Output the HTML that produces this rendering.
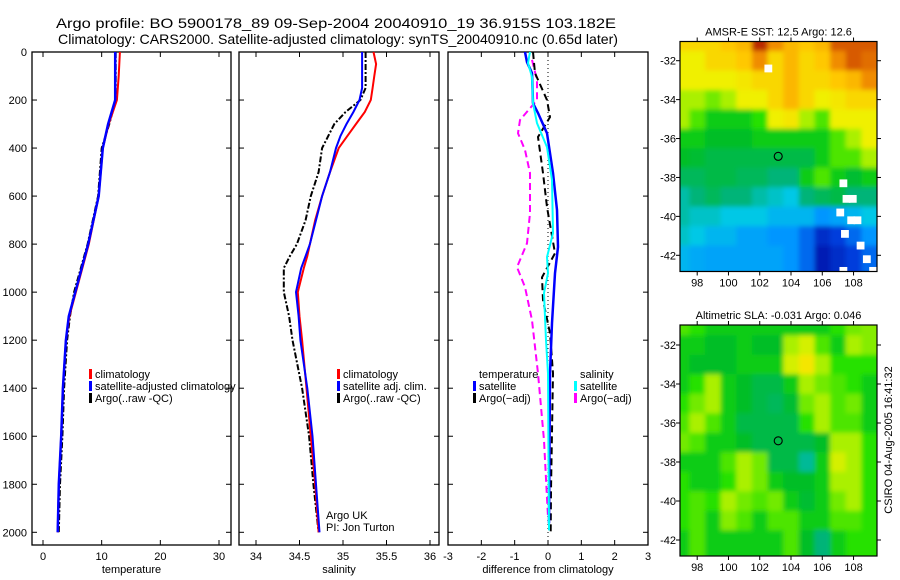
<!DOCTYPE html>
<html><head><meta charset="utf-8"><title>Argo profile</title>
<style>
html,body{margin:0;padding:0;background:#fff;}
svg{display:block;font-family:"Liberation Sans",Arial,sans-serif;}
</style></head>
<body>
<svg id="fig" width="900" height="580" viewBox="0 0 900 580" xmlns="http://www.w3.org/2000/svg">
<defs><filter id="mapblur" x="-5%" y="-5%" width="110%" height="110%"><feGaussianBlur stdDeviation="2.5"/></filter></defs>
<text x="56" y="28" font-size="14" textLength="560" lengthAdjust="spacingAndGlyphs">Argo profile: BO 5900178_89 09-Sep-2004 20040910_19 36.915S 103.182E</text>
<text x="58" y="44" font-size="14" textLength="560" lengthAdjust="spacingAndGlyphs">Climatology: CARS2000. Satellite-adjusted climatology: synTS_20040910.nc (0.65d later)</text>
<text transform="translate(892,440) rotate(-90)" text-anchor="middle" font-size="11">CSIRO 04-Aug-2005 16:41:32</text>
<g id="plots"></g>
</svg>
<script>
// ---------- data ----------
var tDepth = [0,50,100,200,300,400,600,800,1000,1100,1200,1400,1600,1800,2000];
var tClim  = [13.1,13.0,12.9,12.6,11.2,10.2,9.5,7.8,5.6,4.5,3.9,3.4,3.1,2.7,2.5];
var tSat   = [12.3,12.3,12.3,12.3,11.1,10.2,9.5,7.7,5.5,4.4,3.9,3.4,3.1,2.7,2.5];
var tArgo  = [12.4,12.4,12.4,12.4,11.3,10.0,9.4,7.6,5.3,4.6,4.1,3.6,3.3,2.9,2.7];

var sDepth = [0,50,100,150,200,250,300,350,400,500,600,700,800,850,900,1000,1100,1200,1400,1600,1800,2000];
var sClim  = [35.35,35.38,35.36,35.34,35.32,35.25,35.15,35.05,34.95,34.85,34.76,34.68,34.62,34.59,34.55,34.48,34.5,34.53,34.58,34.63,34.68,34.72];
var sSat   = [35.22,35.22,35.22,35.22,35.19,35.12,35.04,34.97,34.92,34.85,34.76,34.69,34.62,34.57,34.52,34.46,34.49,34.51,34.59,34.65,34.69,34.73];
var sArgo  = [35.26,35.26,35.26,35.26,35.2,35.03,34.9,34.83,34.76,34.72,34.63,34.57,34.47,34.39,34.32,34.32,34.38,34.42,34.53,34.61,34.66,34.72];

var dTDepthSat = [0,42,88,213,254,338,504,658,812,921,1129,1338,1963];
var dTSat      = [-0.69,-0.63,-0.48,-0.45,-0.3,-0.03,0.15,0.27,0.3,0.21,0.12,0.06,0.03];
var dSDepthSat = [0,46,104,213,296,396,533,754,854,921,1004,1200,1338,1992];
var dSSat      = [-0.54,-0.6,-0.48,-0.45,-0.33,-0.03,0.12,0.15,-0.03,0,-0.12,-0.06,0,0.03];
var dTDepthArgo= [0,88,200,271,354,504,646,838,938,1033,1171,1338,1825,2000];
var dTArgo     = [-0.45,-0.39,-0.03,0.06,-0.3,-0.15,-0.03,0.21,-0.18,-0.15,0.06,0.15,0.09,0.08];
var dSDepthArgo= [33,117,200,283,338,408,504,671,796,896,979,1117,1338,1617,1938];
var dSArgo     = [-0.48,-0.33,-0.33,-0.84,-0.9,-0.69,-0.54,-0.54,-0.63,-0.93,-0.69,-0.48,-0.3,-0.12,0];

var depthTicks = [0,200,400,600,800,1000,1200,1400,1600,1800,2000];
var tempTicks = [0,10,20,30];
var salTicks = [34,34.5,35,35.5,36];
var diffTicks = [-3,-2,-1,0,1,2,3];
var lonTicks = [98,100,102,104,106,108];
var latTicks = [-32,-34,-36,-38,-40,-42];

// SST map, 1-degree cells: rows lat -31..-43, cols lon 97..109
var sstGrid = [
[7.5,7.5,7.5,7.8,8,9.5,8.5,8,7.8,8,9,9,9],
[7,7,7.5,7.5,7.8,8.5,7.5,8,7.5,7.8,8.5,9,8.8],
[7,7,7,7,7.2,7.5,7.5,8,7.5,7.5,7.8,8,8.5],
[6.5,6.5,6.2,6.5,7,7,7.5,8,7.5,7,7.2,7.5,7.5],
[6.5,6,5.5,5.5,5.5,5.8,7,7.2,6.5,6,7,7,7],
[5.5,5.5,5.3,5.3,5.3,5.5,5.5,5.5,5.5,5.5,6,6.5,7],
[5.3,5.2,5,5,5,5,5,5,5,5.5,6,6,6.5],
[4.8,4.8,5,5,4.8,4.8,4.5,4.5,5.5,6,5.5,5.2,5.5],
[4.2,4.5,4.8,4.5,4.5,4.2,4,3.8,4.5,4.8,5,4.5,4.5],
[4.2,4,4,3.8,3.8,3.8,3.5,3.5,3.5,3,3.2,3.5,3.8],
[4,3.8,3.5,3.5,3.2,3.2,3,3,2.5,1.5,2,2.5,3],
[3.5,3.3,3.2,3.2,3.2,3.2,3.2,3,2.5,1,1.5,2,2.5],
[3.5,3.3,3.2,3.2,3.2,3.2,3.2,3,2.5,1,1.5,2,2.5]
];
var sstBlankLon = [102.3,107.1,107.3,107.7,106.9,107.6,108.0,107.2,108.2,108.6,107.1,109.0];
var sstBlankLat = [-32.2,-38.1,-38.9,-38.9,-39.6,-40.0,-40.0,-40.7,-41.3,-42.0,-42.6,-42.6];
var slaGrid = [
[6,5.8,5.5,5.5,5.5,5.5,5.5,5.5,5.5,5.5,5.8,6.2,6.3],
[5.5,5.5,5.3,5.3,5.5,5.3,5.3,6.5,6.8,6,5.5,6.5,6.3],
[5.5,5.3,5.3,5.3,5.5,5.5,5.5,6.8,7.2,6.5,5.8,5.8,5.8],
[5.5,5.8,6.5,5.5,5.3,5,5,5.5,6.5,6.2,6,5.8,5.5],
[5.8,6.2,6.5,5.5,5.3,5,4.8,5.2,6.2,6.5,6,6.2,5.5],
[6,6.5,6,5.5,5,5,5,5,5.8,6.5,6,6,5.5],
[6.2,6,5.5,5.5,5.3,5,5,5,5,5.3,6.5,6.5,5.8],
[5.5,5.5,5.5,6,6.5,6.2,5,5,4.3,5.5,6.8,6.5,5.8],
[5.8,5.5,5.5,5.8,6.5,6.2,5.5,5.3,5.3,5.5,6.5,6.5,5.8],
[5.8,6,5.8,6.5,6.2,6,6.2,5.5,5.2,5.5,6.2,6.5,5.8],
[5.8,6,5.5,6.3,6,5.5,6,6,5.5,5.5,6,6,5.8],
[5.5,6,5.5,5.5,5.5,5.5,5.5,6,5.3,4.5,5.5,5.8,5.8],
[5.5,6,5.5,5.5,5.5,5.5,5.5,6,5.3,4.5,5.5,5.8,5.8]
];
var argoLon = 103.182, argoLat = -36.915;

// ---------- helpers ----------
var NS = "http://www.w3.org/2000/svg";
var root = document.getElementById('plots');
function mk(tag, attrs, parent){
  var e = document.createElementNS(NS, tag);
  for (var k in attrs) e.setAttribute(k, attrs[k]);
  (parent||root).appendChild(e);
  return e;
}
function lin(d0,d1,r0,r1){ return function(v){ return r0 + (v-d0)*(r1-r0)/(d1-d0); }; }
var yDepth = lin(0,2000,52,532.3);

function panel(name, x0, x1, xs, xticks, xlabel, yLabelsLeft){
  var g = mk('g', {});
  
  
  var fr = mk('rect', {x:x0, y:52, width:x1-x0, height:493, fill:'none', stroke:'#000', 'stroke-width':1.3}, g);
  
  
  depthTicks.forEach(function(d){
    var y = yDepth(d);
    mk('line', {x1:x0, x2:x0+5, y1:y, y2:y, stroke:'#000'}, g);
    mk('line', {x1:x1-5, x2:x1, y1:y, y2:y, stroke:'#000'}, g);
    if (yLabelsLeft){
      var t = mk('text', {x:x0-5, y:y+4, 'font-size':11, 'text-anchor':'end'}, g);
      t.textContent = d;
      
      
    }
  });
  xticks.forEach(function(v){
    var x = xs(v);
    mk('line', {x1:x, x2:x, y1:52, y2:57, stroke:'#000'}, g);
    mk('line', {x1:x, x2:x, y1:540, y2:545, stroke:'#000'}, g);
    var t = mk('text', {x:x, y:560, 'font-size':11, 'text-anchor':'middle'}, g);
    t.textContent = v;
    
    
  });
  var xl = mk('text', {x:(x0+x1)/2, y:573, 'font-size':11, 'text-anchor':'middle'}, g);
  xl.textContent = xlabel;
  
  
  return g;
}
function series(g, name, xs, vals, depths, color, dash, w){
  var pts = vals.map(function(v,i){ return xs(v).toFixed(1)+','+yDepth(depths[i]).toFixed(1); }).join(' ');
  var p = mk('polyline', {points:pts, fill:'none', stroke:color, 'stroke-width':w||2, 'stroke-dasharray':dash||'none'}, g);
  
  
}
function legend(g, name, x, y, items){
  var lg = mk('g', {}, g);
  
  
  items.forEach(function(it,i){
    var yy = y + i*12;
    if (it[1]) mk('rect', {x:x, y:yy-8, width:3, height:10, fill:it[1]}, lg);
    var t = mk('text', {x:x+6, y:yy+1, 'font-size':11}, lg);
    t.textContent = it[0];
    
    
  });
}

// ---------- panel 1: temperature ----------
var xT = lin(0,30,43,219);
var g1 = panel('temperature-panel', 32, 231, xT, tempTicks, 'temperature', true);
series(g1, 'temp-argo-line', xT, tArgo, tDepth, '#000', '6,2,2,2', 2);
series(g1, 'temp-climatology-line', xT, tClim, tDepth, '#f00', null, 2);
series(g1, 'temp-satellite-line', xT, tSat, tDepth, '#00f', null, 2.5);
legend(g1, 'temperature-legend', 89, 377, [['climatology','#f00'],['satellite-adjusted climatology','#00f'],['Argo(..raw  -QC)','#000']]);

// ---------- panel 2: salinity ----------
var xS = lin(34,36,256,430);
var g2 = panel('salinity-panel', 239, 439, xS, salTicks, 'salinity', false);
series(g2, 'sal-argo-line', xS, sArgo, sDepth, '#000', '6,2,2,2', 2);
series(g2, 'sal-climatology-line', xS, sClim, sDepth, '#f00', null, 2);
series(g2, 'sal-satellite-line', xS, sSat, sDepth, '#00f', null, 2);
legend(g2, 'salinity-legend', 337, 377, [['climatology','#f00'],['satellite adj. clim.','#00f'],['Argo(..raw  -QC)','#000']]);
legend(g2, 'pi-credit', 320, 518, [['Argo UK',null],['PI: Jon Turton',null]]);

// ---------- panel 3: difference ----------
var xD = lin(-3,3,448,648);
var g3 = panel('difference-panel', 448, 648, xD, diffTicks, 'difference from climatology', false);
var zl = mk('line', {x1:xD(0), x2:xD(0), y1:52, y2:545, stroke:'#000', 'stroke-dasharray':'1,3'}, g3);


series(g3, 'diff-sal-argo-line', xD, dSArgo, dSDepthArgo, '#f0f', '7,4', 2);
series(g3, 'diff-temp-argo-line', xD, dTArgo, dTDepthArgo, '#000', '7,4', 2);
series(g3, 'diff-temp-satellite-line', xD, dTSat, dTDepthSat, '#00f', null, 2.5);
series(g3, 'diff-sal-satellite-line', xD, dSSat, dSDepthSat, '#0ff', null, 2);
legend(g3, 'diff-temp-legend', 473, 377, [['temperature',null],['satellite','#00f'],['Argo(−adj)','#000']]);
legend(g3, 'diff-sal-legend', 574, 377, [['salinity',null],['satellite','#0ff'],['Argo(−adj)','#f0f']]);

// ---------- maps ----------
var cStops = [0,2,3,3.8,4.5,5.3,5.8,6.5,7,7.8,8.5,9.3,10];
var cRGB = [[0,0,140],[0,60,220],[0,150,255],[0,200,230],[0,180,120],[0,190,40],[40,225,0],[170,240,0],[240,240,0],[255,200,0],[240,140,0],[200,60,0],[150,0,0]];
function cmap(v){
  for (var i=1;i<cStops.length;i++){
    if (v<=cStops[i]){
      var f=(v-cStops[i-1])/(cStops[i]-cStops[i-1]);
      var c=cRGB[i-1].map(function(a,k){return Math.round(a+(cRGB[i][k]-a)*f);});
      return 'rgb('+c.join(',')+')';
    }
  }
  return 'rgb(150,0,0)';
}
function drawMap(name, title, grid, x0, x1, top, bottom, lat32y, lat42y, blanksLon, blanksLat){
  var g = mk('g', {});
  
  
  var xs = lin(98,108, x0+(x1-x0)*(98-96.9)/(109.5-96.9), x0+(x1-x0)*(108-96.9)/(109.5-96.9));
  var ys = lin(-32,-42, lat32y, lat42y);
  var cp = mk('clipPath', {id:'clip-'+name}, g);
  mk('rect', {x:x0, y:top, width:x1-x0, height:bottom-top}, cp);
  var cg = mk('g', {'clip-path':'url(#clip-'+name+')'}, g);
  var bg = mk('g', {filter:'url(#mapblur)'}, cg);
  grid.forEach(function(row,r){
    row.forEach(function(v,c){
      var lon = 96.5 + c, lat = -30.5 - r;
      var px = xs(lon), py = ys(lat);
      var w = xs(lon+1)-px+0.6, h = ys(lat-1)-py+0.6;
      if (c===0){ px -= 10; w += 10; }
      if (c===row.length-1){ w += 10; }
      if (r===0){ py -= 10; h += 10; }
      if (r===grid.length-1){ h += 10; }
      var cell = mk('rect', {x:px, y:py, width:w, height:h, fill:cmap(v)}, bg);
      
      
    });
  });
  (blanksLon||[]).forEach(function(lo,i){
    var b = mk('rect', {x:xs(lo), y:ys(blanksLat[i]), width:xs(lo+0.5)-xs(lo), height:ys(blanksLat[i]-0.4)-ys(blanksLat[i]), fill:'#fff'}, cg);
    
    
  });
  var fr = mk('rect', {x:x0, y:top, width:x1-x0, height:bottom-top, fill:'none', stroke:'#000', 'stroke-width':1.2}, g);
  
  
  var ci = mk('circle', {cx:xs(argoLon), cy:ys(argoLat), r:4, fill:'none', stroke:'#000', 'stroke-width':1.1}, g);
  
  
  lonTicks.forEach(function(v){
    var x = xs(v);
    mk('line', {x1:x, x2:x, y1:top-4, y2:top, stroke:'#000'}, g);
    mk('line', {x1:x, x2:x, y1:bottom, y2:bottom+4, stroke:'#000'}, g);
    var t = mk('text', {x:x, y:bottom+15, 'font-size':11, 'text-anchor':'middle'}, g);
    t.textContent = v;
    
    
  });
  latTicks.forEach(function(v){
    var y = ys(v);
    mk('line', {x1:x1, x2:x1+4, y1:y, y2:y, stroke:'#000'}, g);
    mk('line', {x1:x0-4, x2:x0, y1:y, y2:y, stroke:'#000'}, g);
    var t = mk('text', {x:x0-4, y:y+4, 'font-size':11, 'text-anchor':'end'}, g);
    t.textContent = v;
    
    
  });
  var tt = mk('text', {x:(x0+x1)/2, y:top-6, 'font-size':11, 'text-anchor':'middle'}, g);
  tt.textContent = title;
  
  
}
drawMap('sst-map', 'AMSR-E SST: 12.5 Argo: 12.6', sstGrid, 680, 877, 41.5, 271.5, 60.7, 255.3, sstBlankLon, sstBlankLat);
drawMap('sla-map', 'Altimetric SLA: -0.031 Argo: 0.046', slaGrid, 680, 877, 325, 556, 345, 540, [], []);
</script>
</body></html>
